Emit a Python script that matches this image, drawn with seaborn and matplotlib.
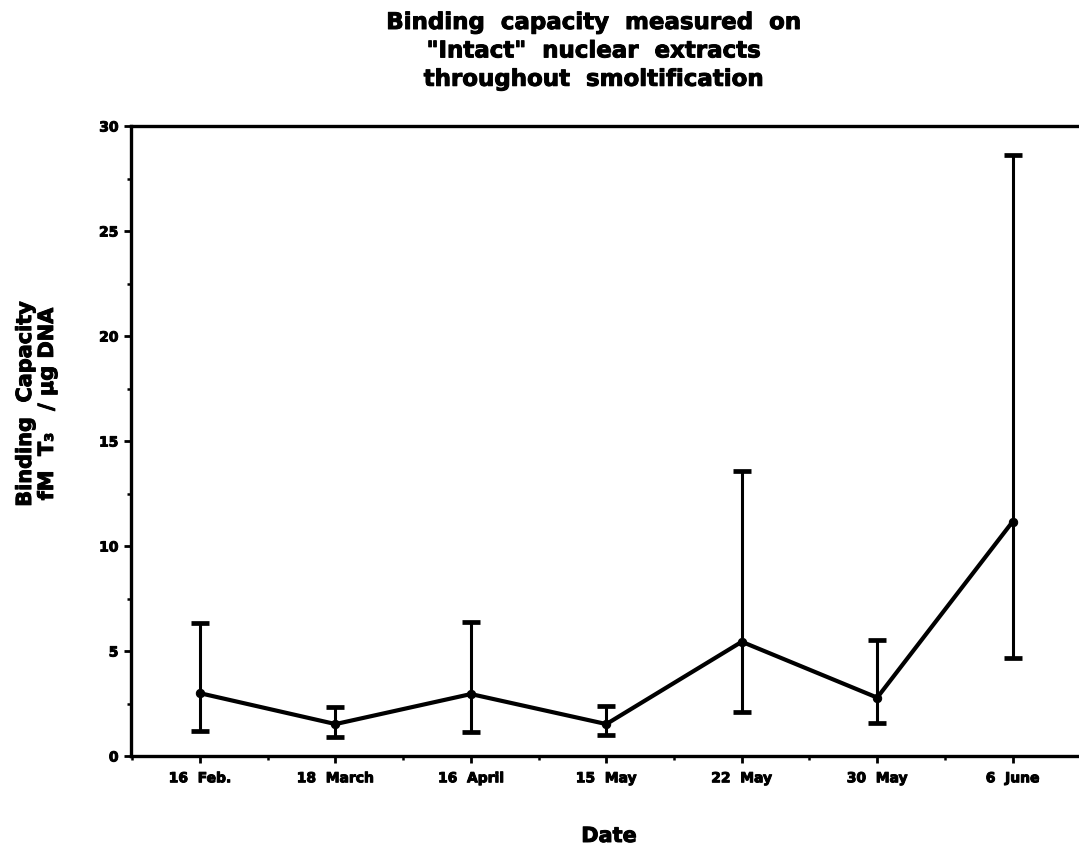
import numpy as np
import pandas as pd
import matplotlib
matplotlib.use("Agg")
import matplotlib.pyplot as plt
import matplotlib.patheffects as pe
from matplotlib.ticker import MultipleLocator
import seaborn as sns

# Sampling dates and binding capacity (fM T3 / ug DNA): mean with lower/upper bounds
dates = ["16  Feb.", "18  March", "16  April", "15  May", "22  May", "30  May", "6  June"]
binding_mean = [2.99, 1.52, 2.95, 1.52, 5.44, 2.78, 11.16]
binding_upper = [6.35, 2.32, 6.40, 2.38, 13.59, 5.52, 28.62]
binding_lower = [1.20, 0.92, 1.13, 1.01, 2.11, 1.59, 4.68]

sns.set_style("ticks")
plt.rcParams["font.family"] = ["DejaVu Sans"]
plt.rcParams["font.weight"] = "bold"
for key in ["text.color", "axes.labelcolor", "xtick.color", "ytick.color", "axes.edgecolor"]:
    plt.rcParams[key] = "black"

# heavier strokes for all lettering
heavy = [pe.withStroke(linewidth=0.7, foreground="black")]

df = pd.DataFrame({
    "pos": np.arange(len(dates)),
    "mean": binding_mean,
    "upper": binding_upper,
    "lower": binding_lower,
})

fig = plt.figure(figsize=(10.79, 8.5), dpi=100)
ax = fig.add_axes([131 / 1079, 1 - 756 / 850, 1 - 131 / 1079, (756 - 126) / 850])

sns.lineplot(data=df, x="pos", y="mean", ax=ax, color="black", linewidth=3.0,
             marker="o", markersize=6, markeredgecolor="black", zorder=3)
ax.errorbar(df["pos"], df["mean"],
            yerr=[df["mean"] - df["lower"], df["upper"] - df["mean"]],
            fmt="none", ecolor="black", elinewidth=2.2, capsize=6.5, capthick=3.4,
            zorder=2)

ax.set_xlim(-0.51, 6.49)
ax.set_ylim(0, 30)
ax.set_xticks(df["pos"])
ax.set_xticklabels(dates)
ax.xaxis.set_minor_locator(MultipleLocator(0.5))
ax.yaxis.set_major_locator(MultipleLocator(5))
ax.yaxis.set_minor_locator(MultipleLocator(2.5))

for side in ["left", "bottom", "top"]:
    ax.spines[side].set_linewidth(2.4)
    ax.spines[side].set_color("black")
ax.spines["right"].set_visible(False)

ax.tick_params(axis="both", which="major", length=5, width=2, color="black",
               labelsize=10, pad=6, labelcolor="black")
ax.tick_params(axis="both", which="minor", length=3, width=1.8, color="black")
ax.tick_params(axis="y", pad=4)
for lab in ax.get_xticklabels() + ax.get_yticklabels():
    lab.set_fontweight("bold")
    lab.set_path_effects(heavy)

ax.set_xlabel("")
ax.set_ylabel("")

fig.text(609 / 1079, 1 - 836 / 850, "Date", ha="center", va="center",
         fontsize=15, fontweight="bold", path_effects=heavy)
fig.text(36 / 1079, 1 - 404 / 850, "Binding  Capacity\nfM  T\u2083   / \u00b5g DNA",
         rotation=90, ha="center", va="center", multialignment="center",
         fontsize=15, fontweight="bold", linespacing=1.12, path_effects=heavy)
fig.text(593 / 1079, 1 - 11 / 850,
         "Binding  capacity  measured  on\n\"Intact\"  nuclear  extracts\nthroughout  smoltification",
         ha="center", va="top", multialignment="center",
         fontsize=16.5, fontweight="bold", linespacing=1.3, path_effects=heavy)

fig.savefig("out.png", dpi=100)
